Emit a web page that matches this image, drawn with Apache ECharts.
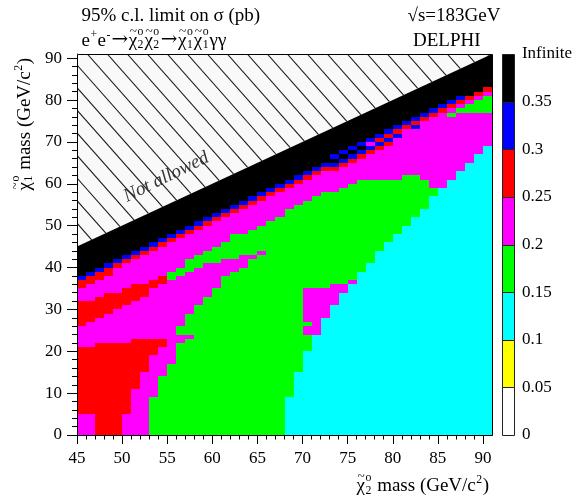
<!DOCTYPE html>
<html>
<head>
<meta charset="utf-8">
<script src="https://cdn.jsdelivr.net/npm/echarts@6.0.0/dist/echarts.min.js"></script>
<style>
html, body { margin: 0; padding: 0; background: #ffffff; }
#chart { width: 575px; height: 501px; }
</style>
</head>
<body>
<div id="chart"></div>
<script>
// ================= DATA =================
// x: chi2 mass (GeV/c^2), one column per GeV starting at 45
// y: chi1 mass (GeV/c^2), one row per GeV starting at 0
const chi2MassStart = 45;
const chi1MassStart = 0;
const X_MIN = 45, X_MAX = 91, Y_MIN = 0, Y_MAX = 91;

// colour-bin boundaries of the 95% c.l. limit on sigma (pb)
const levelBoundaries = ['0', '0.05', '0.1', '0.15', '0.2', '0.25', '0.3', '0.35', 'Infinite'];
// one code per bin: w 0-0.05, y 0.05-0.1, c 0.1-0.15, g 0.15-0.2, m 0.2-0.25, r 0.25-0.3, b 0.3-0.35, k >0.35
const levelCodes = ['w', 'y', 'c', 'g', 'm', 'r', 'b', 'k'];

// run-length of bins in each column, from chi1 mass 0 upwards; rest of column is 'k' (Infinite)
const columnRuns = [
  'm5 r16 m5 r6 m3 r2 b1',          // 45
  'm5 r16 m6 r5 m4 r2 b1',          // 46
  'r22 m6 r5 m4 r2 b1',             // 47
  'r22 m7 r5 m4 r2 b1',             // 48
  'r22 m8 r4 m6 r1 b1',             // 49
  'm5 r17 m9 r4 m6 r1 b1',          // 50
  'm11 r12 m9 r4 m6 r1 b1',         // 51
  'm15 r8 m10 r3 m7 r1 b1',         // 52
  'g9 m10 r4 m12 r2 m7 r1 b1',      // 53
  'g14 m7 r2 m13 r2 m7 r1 b1',      // 54
  'g17 m20 g2 m7 r1 b1',            // 55
  'g22 m2 g2 m12 g2 m7 r1 b1',      // 56
  'g23 m1 g5 m10 g3 m6 r1 b1',      // 57
  'g31 m9 g3 m6 r1 b1',             // 58
  'g33 m8 g3 m6 r1 b1',             // 59
  'g35 m6 g4 m6 r1 b1',             // 60
  'g38 m4 g4 m6 r1 b1',             // 61
  'g39 m3 g6 m5 r1 b1',             // 62
  'g40 m3 g5 m6 r1 b1',             // 63
  'g42 m1 g6 m6 r1 b1',             // 64
  'g43 m1 g6 m6 r1 b1',             // 65
  'g51 m6 r1 b1',                   // 66
  'g52 m6 r1 b1',                   // 67
  'c9 g45 m5 r1 b1',                // 68
  'c15 g40 m5 r1 b1',               // 69
  'c20 g4 m2 g1 m8 g21 m5 r1 b1',   // 70
  'c24 m11 g22 m5 r1 b1',           // 71
  'c28 m7 g23 m5 r1 b1',            // 72
  'c31 m5 g22 m5 r1 b1 k1 b1',      // 73
  'c34 m2 g23 m5 r1 b1 k1 b1',      // 74
  'c36 m1 g23 m5 r1 b1 k1 b1',      // 75
  'c39 g22 m5 r1 b1 k1 b1',         // 76
  'c41 g20 m6 r1 b1 m1 b1',         // 77
  'c44 g17 m7 r1 b1 r1 b1',         // 78
  'c46 g15 m8 r1 b1 r1 b1',         // 79
  'c48 g13 m10 b1 r1 b1',           // 80
  'c50 g12 m11 r1 b1',              // 81
  'c52 g10 m11 b1 r1 b1',           // 82
  'c54 g7 m14 r1 b1',               // 83
  'c57 g2 m17 r1 b1',               // 84
  'c59 m18 r1 b1',                  // 85
  'c61 m15 g1 m1 r1 b1',            // 86
  'c63 m14 g1 m1 r1 b1',            // 87
  'c65 m12 g2 m1 r1',               // 88
  'c67 m10 g3 m1 r1',               // 89
  'c69 m8 g4 m1 r1'                 // 90
];

// kinematic limit chi1 mass = chi2 mass (above it: not allowed)
const kinematicLimit = [[45, 45], [91, 91]];

const xMajorTicks = [45, 50, 55, 60, 65, 70, 75, 80, 85, 90];
const xMinorTicks = [46, 47, 48, 49, 51, 52, 53, 54, 56, 57, 58, 59, 61, 62, 63, 64, 66, 67, 68, 69,
                     71, 72, 73, 74, 76, 77, 78, 79, 81, 82, 83, 84, 86, 87, 88, 89];
const yMajorTicks = [0, 10, 20, 30, 40, 50, 60, 70, 80, 90];
const yMinorTicks = [2, 4, 6, 8, 12, 14, 16, 18, 22, 24, 26, 28, 32, 34, 36, 38, 42, 44, 46, 48,
                     52, 54, 56, 58, 62, 64, 66, 68, 72, 74, 76, 78, 82, 84, 86, 88];

// ================= STYLE =================
const levelColors = ['#ffffff', '#ffff00', '#00ffff', '#00ff00', '#ff00ff', '#ff0000', '#0000ff', '#000000'];
const SERIF = '"Liberation Serif","Times New Roman",Times,serif';
const ARROW_FONT = '"DejaVu Serif","DejaVu Sans",serif';

// ================= BUILD CELLS =================
const cells = [];
columnRuns.forEach(function (runs, i) {
  const x = chi2MassStart + i;
  let y = chi1MassStart;
  runs.split(' ').forEach(function (tok) {
    const lv = levelCodes.indexOf(tok[0]);
    const n = parseInt(tok.slice(1), 10);
    for (let k = 0; k < n; k++) cells.push([x, y++, lv]);
  });
  while (y < Y_MAX) cells.push([x, y++, levelCodes.indexOf('k')]);
});

// ================= TEXT HELPERS =================
const mctx = document.createElement('canvas').getContext('2d');
function textWidth(str, size, italic, family) {
  mctx.font = (italic ? 'italic ' : '') + size + 'px ' + (family || SERIF);
  return mctx.measureText(str).width;
}
function txt(str, x, baseline, size, italic, fill, family) {
  return {
    type: 'text', x: x, y: baseline - 0.34 * size, silent: true,
    style: { text: str, font: (italic ? 'italic ' : '') + size + 'px ' + (family || SERIF),
             fill: fill || '#000', align: 'left', verticalAlign: 'middle' }
  };
}
function mathRow(tokens, size) {
  let cx = 0;
  const out = [];
  tokens.forEach(function (tk) {
    if (typeof tk === 'string') {
      out.push(txt(tk, cx, 0, size));
      cx += textWidth(tk, size);
    } else if (tk.arrow) {
      const as = size * 1.05;
      out.push(txt('→', cx + 0.5, -0.02 * size, as, false, '#000', ARROW_FONT));
      cx += textWidth('→', as, false, ARROW_FONT) + 1;
    } else if (tk.chi !== undefined) {
      const w = textWidth('χ', size);
      out.push(txt('χ', cx, 0, size));
      const ts = size * 0.7;
      out.push(txt('~', cx + w * 0.55 - textWidth('~', ts) / 2, -0.58 * size, ts));
      const s = size * 0.62;
      out.push(txt('o', cx + w + 0.5, -0.58 * size, s));
      out.push(txt(tk.chi, cx + w + 0.5, 0.12 * size, s));
      cx += w + Math.max(textWidth('o', s), textWidth(tk.chi, s)) + 1.5;
    } else if (tk.sup !== undefined) {
      const s = size * 0.62;
      out.push(txt(tk.sup, cx + 0.5, -0.45 * size, s));
      cx += textWidth(tk.sup, s) + 1;
    }
  });
  return { children: out, width: cx };
}
function mathGroup(tokens, size, x, y, opts) {
  const r = mathRow(tokens, size);
  opts = opts || {};
  let x0 = x;
  if (opts.alignRight) x0 = x - r.width;
  return { type: 'group', x: x0, y: y, rotation: opts.rotation || 0, children: r.children };
}

const TS = 19;
const graphics = [
  mathGroup(['95% c.l. limit on σ (pb)'], TS, 81.5, 22.5),
  mathGroup(['e', { sup: '+' }, 'e', { sup: '-' }, { arrow: true }, { chi: '2' }, { chi: '2' }, { arrow: true },
             { chi: '1' }, { chi: '1' }, 'γγ'], TS, 81.5, 47),
  mathGroup(['√s=183GeV'], TS, 407.5, 22.5),
  mathGroup(['DELPHI'], TS, 413, 47),
  mathGroup([{ chi: '2' }, ' mass (GeV/c', { sup: '2' }, ')'], TS, 489, 492.5, { alignRight: true }),
  (function () {
    const r = mathRow([{ chi: '1' }, ' mass (GeV/c', { sup: '2' }, ')'], TS);
    return { type: 'group', x: 31, y: 58 + r.width, rotation: Math.PI / 2, children: r.children };
  })()
];

// ================= RENDERERS =================
function renderCell(params, api) {
  const x = api.value(0), y = api.value(1), lv = api.value(2);
  const p0 = api.coord([x, y + 1]);
  const p1 = api.coord([x + 1, y]);
  const x0 = Math.round(p0[0]), y0 = Math.round(p0[1]);
  const x1 = Math.round(p1[0]), y1 = Math.round(p1[1]);
  return { type: 'rect', shape: { x: x0, y: y0, width: x1 - x0, height: y1 - y0 },
           style: { fill: levelColors[lv] } };
}

function renderForbidden(params, api) {
  const lo = kinematicLimit[0], hi = kinematicLimit[1];
  const A = api.coord([lo[0], lo[1]]);
  const B = api.coord([lo[0], Y_MAX]);
  const C = api.coord([hi[0], hi[1]]);
  const children = [{
    type: 'polygon', shape: { points: [A, B, C] },
    style: { fill: '#f9f9f9', stroke: null }
  }];
  // hatch: lines x - y/s = k, spaced 20 px horizontally
  const s = 1.13;
  const f = function (p, k) { return p[0] - p[1] / s - k; };
  const verts = [A, B, C];
  const ks = verts.map(function (p) { return p[0] - p[1] / s; });
  const kmin = Math.min.apply(null, ks), kmax = Math.max.apply(null, ks);
  const phase = 77 - 65 / s;
  let kStart = phase + Math.ceil((kmin - phase) / 20) * 20;
  for (let k = kStart; k < kmax; k += 20) {
    const pts = [];
    for (let e = 0; e < 3; e++) {
      const P = verts[e], Q = verts[(e + 1) % 3];
      const fp = f(P, k), fq = f(Q, k);
      if ((fp <= 0 && fq > 0) || (fp > 0 && fq <= 0)) {
        const t = fp / (fp - fq);
        pts.push([P[0] + t * (Q[0] - P[0]), P[1] + t * (Q[1] - P[1])]);
      }
    }
    if (pts.length >= 2) {
      children.push({ type: 'line', shape: { x1: pts[0][0], y1: pts[0][1], x2: pts[1][0], y2: pts[1][1] },
                      style: { stroke: '#1a1a1a', lineWidth: 1.1 } });
    }
  }
  const tp = api.coord([54.9, 61.6]);
  children.push({
    type: 'text', x: tp[0], y: tp[1], rotation: 26.2 * Math.PI / 180, silent: true,
    style: { text: 'Not allowed', font: 'italic 19px ' + SERIF, fill: '#333', align: 'center', verticalAlign: 'middle' }
  });
  return { type: 'group', children: children };
}

function renderFrame(params, api) {
  const p0 = api.coord([X_MIN, Y_MAX]);
  const p1 = api.coord([X_MAX, Y_MIN]);
  return { type: 'rect', shape: { x: Math.round(p0[0]) + 0.5, y: Math.round(p0[1]) + 0.5,
           width: Math.round(p1[0]) - Math.round(p0[0]), height: Math.round(p1[1]) - Math.round(p0[1]) },
           style: { fill: null, stroke: '#000', lineWidth: 1 } };
}

function renderBar(params, api) {
  const i = api.value(0);
  const p0 = api.coord([0, i + 1]);
  const p1 = api.coord([1, i]);
  return { type: 'rect', shape: { x: Math.round(p0[0]) + 0.5, y: Math.round(p0[1]) + 0.5,
           width: Math.round(p1[0]) - Math.round(p0[0]), height: Math.round(p1[1]) - Math.round(p0[1]) },
           style: { fill: levelColors[i], stroke: '#222', lineWidth: 1 } };
}

// ================= CHART =================
const chart = echarts.init(document.getElementById('chart'));
const labelStyle = { fontFamily: SERIF, fontSize: 17, color: '#000' };

chart.setOption({
  animation: false,
  backgroundColor: '#ffffff',
  grid: [
    { left: 77, top: 54, width: 415, height: 381, show: false },
    { left: 502, top: 54, width: 15, height: 381, show: false }
  ],
  xAxis: [
    { type: 'value', gridIndex: 0, min: X_MIN, max: X_MAX, position: 'bottom',
      axisLine: { show: true, lineStyle: { color: '#000', width: 1 } },
      axisTick: { show: true, length: 9, customValues: xMajorTicks, lineStyle: { color: '#000', width: 1 } },
      axisLabel: Object.assign({ show: true, margin: 15, customValues: xMajorTicks }, labelStyle),
      splitLine: { show: false }, minorTick: { show: false } },
    { type: 'value', gridIndex: 0, min: X_MIN, max: X_MAX, position: 'bottom',
      axisLine: { show: false },
      axisTick: { show: true, length: 4.5, customValues: xMinorTicks, lineStyle: { color: '#000', width: 1 } },
      axisLabel: { show: false }, splitLine: { show: false } },
    { type: 'value', gridIndex: 1, min: 0, max: 1, show: false }
  ],
  yAxis: [
    { type: 'value', gridIndex: 0, min: Y_MIN, max: Y_MAX, position: 'left',
      axisLine: { show: true, lineStyle: { color: '#000', width: 1 } },
      axisTick: { show: true, length: 10, customValues: yMajorTicks, lineStyle: { color: '#000', width: 1 } },
      axisLabel: Object.assign({ show: true, margin: 15, customValues: yMajorTicks }, labelStyle),
      splitLine: { show: false }, minorTick: { show: false } },
    { type: 'value', gridIndex: 0, min: Y_MIN, max: Y_MAX, position: 'left',
      axisLine: { show: false },
      axisTick: { show: true, length: 5, customValues: yMinorTicks, lineStyle: { color: '#000', width: 1 } },
      axisLabel: { show: false }, splitLine: { show: false } },
    { type: 'value', gridIndex: 1, min: 0, max: 8, interval: 1, position: 'right',
      axisLine: { show: false }, axisTick: { show: false }, splitLine: { show: false },
      axisLabel: Object.assign({ show: true, margin: 8, showMinLabel: true, showMaxLabel: true,
        formatter: function (v) { return levelBoundaries[Math.round(v)]; } }, labelStyle) }
  ],
  graphic: graphics,
  series: [
    { type: 'custom', name: 'limit', xAxisIndex: 0, yAxisIndex: 0, renderItem: renderCell,
      data: cells, clip: true, progressive: 0, silent: true, z: 2 },
    { type: 'custom', name: 'notAllowed', xAxisIndex: 0, yAxisIndex: 0, renderItem: renderForbidden,
      data: [[X_MIN, Y_MAX]], clip: true, silent: true, z: 3 },
    { type: 'custom', name: 'frame', xAxisIndex: 0, yAxisIndex: 0, renderItem: renderFrame,
      data: [[X_MIN, Y_MIN]], clip: false, silent: true, z: 4 },
    { type: 'custom', name: 'colorbar', xAxisIndex: 2, yAxisIndex: 2, renderItem: renderBar,
      data: [[0], [1], [2], [3], [4], [5], [6], [7]], clip: false, silent: true, z: 2 }
  ]
});
</script>
</body>
</html>
